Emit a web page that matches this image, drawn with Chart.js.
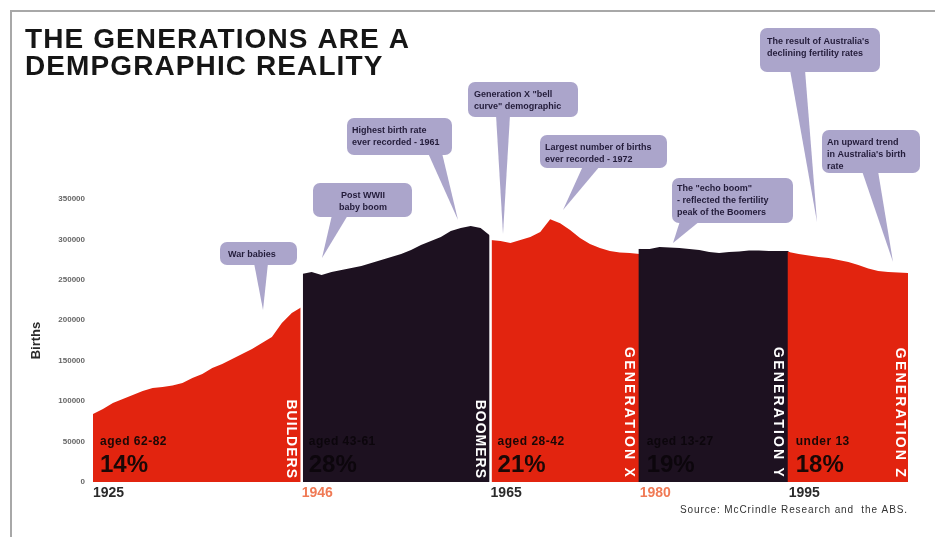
<!DOCTYPE html>
<html><head><meta charset="utf-8">
<script src="https://cdn.jsdelivr.net/npm/chart.js@4"></script>
<style>html,body{margin:0;padding:0;background:#fff}canvas{display:block}</style>
</head><body>
<canvas id="c" width="935" height="537"></canvas>
<script>
// ---------- DATA ----------
const titleLines = ['THE GENERATIONS ARE A', 'DEMPGRAPHIC REALITY'];
const yAxisTitle = 'Births';
const tickYears = [1925, 1946, 1965, 1980, 1995];
const genStart = [1925, 1946, 1965, 1980, 1995];
const lastYear = 2007;
// annual births
const builders = [84100, 90300, 97700, 102700, 107600, 112600, 116300, 117500, 119400, 122500, 128600, 133600, 141000, 146000, 152100, 158300, 164500, 171900, 179400, 196700, 209100, 216500]; // 1925-1946
const boomers = [257300, 259800, 256100, 259800, 262200, 264700, 267200, 270900, 274600, 278300, 282000, 287000, 293200, 298100, 303100, 310500, 314200, 316700, 314200, 304300]; // 1946-1965
const genX = [299400, 298100, 295600, 299400, 303100, 309300, 325000, 320000, 311700, 301800, 294400, 289500, 285700, 283900, 283300, 282000]; // 1965-1980
const genY = [288200, 288200, 290700, 290100, 289500, 288200, 287000, 284500, 283300, 284500, 285100, 286400, 286400, 285700, 285700, 285700]; // 1980-1995
const genZ = [284500, 282000, 280200, 278300, 277100, 274600, 272100, 268400, 264100, 261000, 259800, 259100, 258500]; // 1995-2007
const genNames = ['BUILDERS', 'BOOMERS', 'GENERATION X', 'GENERATION Y', 'GENERATION Z'];
const genAges = ['aged 62-82', 'aged 43-61', 'aged 28-42', 'aged 13-27', 'under 13'];
const genShares = ['14%', '28%', '21%', '19%', '18%'];
const calloutTexts = [
  ['War babies'],
  ['Post WWII', 'baby boom'],
  ['Highest birth rate', 'ever recorded - 1961'],
  ['Generation X "bell', 'curve" demographic'],
  ['Largest number of births', 'ever recorded - 1972'],
  ['The "echo boom"', '- reflected the fertility', 'peak of the Boomers'],
  ["The result of Australia's", 'declining fertility rates'],
  ['An upward trend', "in Australia's birth", 'rate']
];
const sourceText = 'Source: McCrindle Research and  the ABS.';

// ---------- STYLE / LAYOUT ----------
const RED = '#e2240f', DARK = '#1d1120';
const genColors = [RED, DARK, RED, DARK, RED];
const genLabelColors = ['#1a0806', '#0c060c', '#1a0806', '#0c060c', '#1a0806'];
const genNameSpacing = ['1px', '1px', '2.2px', '2.2px', '2.2px'];
const tickColors = ['#2a2a2a', '#f07a55', '#2a2a2a', '#f07a55', '#2a2a2a'];
const calloutLayout = [
  {x:220, y:242, w:77,  h:23, tx:228, ty:[257], center:false, base:[254,268], tip:[263,310]},
  {x:313, y:183, w:99,  h:34, tx:363, ty:[198,210], center:true, base:[332,348], tip:[322,258]},
  {x:347, y:118, w:105, h:37, tx:352, ty:[133,145], center:false, base:[428,442], tip:[458,220]},
  {x:468, y:82,  w:110, h:35, tx:474, ty:[97,109], center:false, base:[496,510], tip:[503,234]},
  {x:540, y:135, w:127, h:33, tx:545, ty:[150,162], center:false, base:[583,600], tip:[563,210]},
  {x:672, y:178, w:121, h:45, tx:677, ty:[191,203,215], center:false, base:[680,700], tip:[673,243]},
  {x:760, y:28,  w:120, h:44, tx:767, ty:[44,56], center:false, base:[790,805], tip:[817,222]},
  {x:822, y:130, w:98,  h:43, tx:827, ty:[145,157,169], center:false, base:[862,878], tip:[893,262]}
];

const pts = (start, vals) => vals.map((v, i) => ({x: start + i, y: v}));
const series = [builders, boomers, genX, genY, genZ];

function roundRect(ctx, x, y, w, h, r) {
  ctx.beginPath();
  ctx.moveTo(x + r, y);
  ctx.arcTo(x + w, y, x + w, y + h, r);
  ctx.arcTo(x + w, y + h, x, y + h, r);
  ctx.arcTo(x, y + h, x, y, r);
  ctx.arcTo(x, y, x + w, y, r);
  ctx.closePath();
}

const overlay = {
  id: 'overlay',
  beforeDraw(chart) {
    const ctx = chart.ctx;
    ctx.save();
    ctx.fillStyle = '#fff';
    ctx.fillRect(0, 0, chart.width, chart.height);
    ctx.strokeStyle = '#a8a8a8';
    ctx.lineWidth = 2;
    ctx.beginPath();
    ctx.moveTo(11, 537); ctx.lineTo(11, 11); ctx.lineTo(935, 11);
    ctx.stroke();
    ctx.restore();
  },
  afterDatasetsDraw(chart) {
    const ctx = chart.ctx, xs = chart.scales.x, ys = chart.scales.y;
    const bottom = chart.chartArea.bottom;
    ctx.save();
    // close anti-alias seams at the 1980 and 1995 boundaries
    [3, 4].forEach(i => {
      const px = xs.getPixelForValue(genStart[i]);
      const top = ys.getPixelForValue(series[i][0]);
      ctx.fillStyle = genColors[i];
      ctx.fillRect(px - 1, top, 2, bottom - top);
    });
    // white separators
    ctx.strokeStyle = '#ffffff';
    ctx.lineWidth = 2.5;
    [1, 2].forEach(i => {
      const px = xs.getPixelForValue(genStart[i]);
      ctx.beginPath(); ctx.moveTo(px, bottom); ctx.lineTo(px, ys.getPixelForValue(330000)); ctx.stroke();
    });
    // generation names (rotated)
    const ends = genStart.slice(1).concat([lastYear]);
    ctx.fillStyle = '#ffffff';
    ctx.font = 'bold 14px "Liberation Sans", Arial, sans-serif';
    ctx.textAlign = 'right';
    ctx.textBaseline = 'middle';
    genNames.forEach((n, i) => {
      const px = xs.getPixelForValue(ends[i]) - (i === 4 ? 8 : 11);
      ctx.letterSpacing = genNameSpacing[i];
      ctx.save();
      ctx.translate(px, 479);
      ctx.rotate(Math.PI / 2);
      ctx.fillText(n, 0, 0);
      ctx.restore();
    });
    // ages + shares
    ctx.textAlign = 'left';
    ctx.textBaseline = 'alphabetic';
    genStart.forEach((s, i) => {
      const px = xs.getPixelForValue(s) + 7;
      ctx.fillStyle = genLabelColors[i];
      ctx.letterSpacing = '0.5px';
      ctx.font = 'bold 12px "Liberation Sans", Arial, sans-serif';
      ctx.fillText(genAges[i], px, 445);
      ctx.letterSpacing = '0px';
      ctx.font = 'bold 24px "Liberation Sans", Arial, sans-serif';
      ctx.fillText(genShares[i], px, 472);
    });
    ctx.restore();
  },
  afterDraw(chart) {
    const ctx = chart.ctx;
    ctx.save();
    // title
    ctx.fillStyle = '#161616';
    ctx.font = 'bold 28px "Liberation Sans", Arial, sans-serif';
    ctx.letterSpacing = '1.1px';
    ctx.textAlign = 'left';
    ctx.textBaseline = 'alphabetic';
    ctx.fillText(titleLines[0], 25, 48);
    ctx.fillText(titleLines[1], 25, 75);
    // callouts
    calloutLayout.forEach((c, i) => {
      ctx.fillStyle = '#aba5cb';
      ctx.beginPath();
      ctx.moveTo(c.base[0], c.y + c.h - 2);
      ctx.lineTo(c.tip[0], c.tip[1]);
      ctx.lineTo(c.base[1], c.y + c.h - 2);
      ctx.closePath();
      ctx.fill();
      roundRect(ctx, c.x, c.y, c.w, c.h, 7);
      ctx.fill();
      ctx.fillStyle = '#231c3a';
      ctx.font = 'bold 9px "Liberation Sans", Arial, sans-serif';
      ctx.letterSpacing = '0px';
      ctx.textAlign = c.center ? 'center' : 'left';
      calloutTexts[i].forEach((t, j) => ctx.fillText(t, c.tx, c.ty[j]));
    });
    // source
    ctx.fillStyle = '#333';
    ctx.font = '10px "Liberation Sans", Arial, sans-serif';
    ctx.letterSpacing = '0px';
    const w = ctx.measureText(sourceText).width;
    ctx.letterSpacing = ((228 - w) / sourceText.length).toFixed(2) + 'px';
    ctx.textAlign = 'left';
    ctx.fillText(sourceText, 680, 513);
    ctx.restore();
  }
};

new Chart(document.getElementById('c'), {
  type: 'line',
  data: {
    datasets: series.map((vals, i) => ({
      data: pts(genStart[i], vals),
      fill: 'origin',
      backgroundColor: genColors[i],
      borderColor: genColors[i],
      borderWidth: 0,
      pointRadius: 0,
      tension: 0
    }))
  },
  options: {
    responsive: false,
    animation: false,
    devicePixelRatio: 1,
    layout: {padding: {left: 20, right: 27, top: 199, bottom: 35}},
    plugins: {legend: {display: false}, tooltip: {enabled: false}},
    scales: {
      x: {
        type: 'linear', min: 1925, max: lastYear,
        grid: {display: false, drawTicks: false}, border: {display: false},
        afterBuildTicks: s => { s.ticks = tickYears.map(v => ({value: v})); },
        afterFit: s => { s.height = 20; },
        ticks: {
          autoSkip: false, maxRotation: 0, align: 'start', padding: 3,
          color: c => tickColors[c.index],
          font: {family: '"Liberation Sans", Arial, sans-serif', size: 14, weight: 'bold'},
          callback: v => String(v)
        }
      },
      y: {
        min: 0, max: 350000,
        grid: {display: false, drawTicks: false}, border: {display: false},
        afterFit: s => { s.width = 73; },
        title: {display: true, text: yAxisTitle, color: '#2a2a2a', padding: {top: 9, bottom: 0},
          font: {family: '"Liberation Sans", Arial, sans-serif', size: 13, weight: 'bold'}},
        ticks: {
          stepSize: 50000, padding: 8, color: '#666',
          font: {family: '"Liberation Sans", Arial, sans-serif', size: 8, weight: 'bold'},
          callback: v => String(v)
        }
      }
    }
  },
  plugins: [overlay]
});
</script>
</body></html>
